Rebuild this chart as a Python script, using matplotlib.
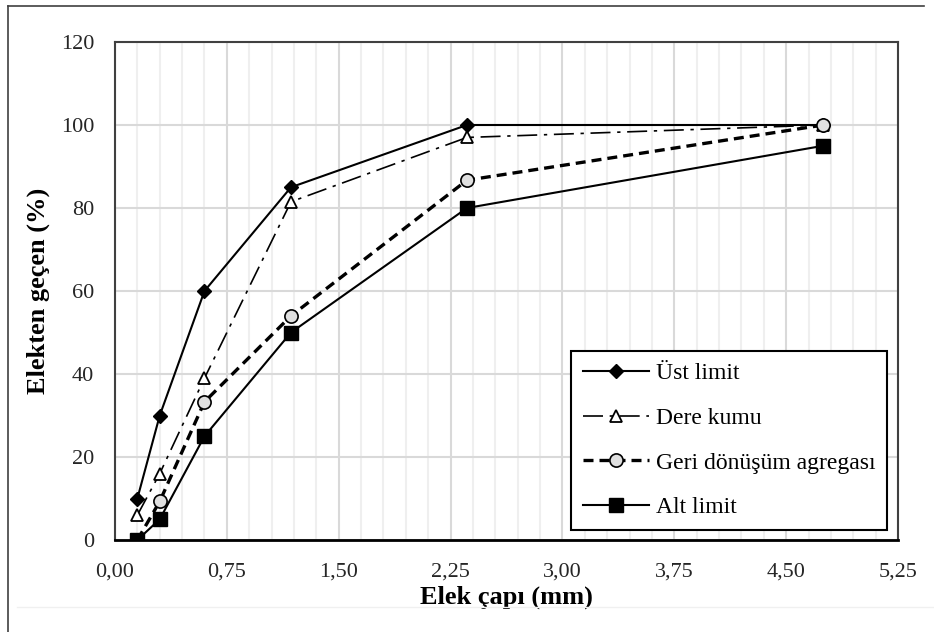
import numpy as np
import matplotlib.pyplot as plt
from matplotlib.ticker import MultipleLocator, FuncFormatter
from matplotlib.lines import Line2D

plt.rcParams['font.family'] = ['Liberation Serif', 'DejaVu Serif']

# sieve sizes (mm)
sieve = [0.15, 0.30, 0.60, 1.18, 2.36, 4.75]

ust_limit = [10, 30, 60, 85, 100, 100]
dere_kumu = [6, 16, 39, 81.5, 97, 100]
geri_donusum = [0, 9.3, 33.3, 54, 86.7, 100]
alt_limit = [0, 5, 25, 50, 80, 95]

W, H = 934, 632
fig = plt.figure(figsize=(W / 100, H / 100), dpi=100)
ax = fig.add_axes([115 / W, 1 - 540 / H, (898 - 115) / W, (540 - 42) / H])

# outer frame (top and left edges visible) and faint bottom rule
fig.add_artist(Line2D([8 / W, 924 / W], [1 - 6 / H, 1 - 6 / H], transform=fig.transFigure,
                      color='#404040', linewidth=1.2))
fig.add_artist(Line2D([8 / W, 8 / W], [0, 1 - 6 / H], transform=fig.transFigure,
                      color='#404040', linewidth=1.2))
fig.add_artist(Line2D([17 / W, 1], [1 - 607 / H, 1 - 607 / H], transform=fig.transFigure,
                      color='#f0f0f0', linewidth=1.0))

ax.plot(sieve, ust_limit, color='black', linestyle='-', linewidth=1.5,
        marker='D', markersize=7.5, markerfacecolor='black', label='Üst limit')
ax.plot(sieve, dere_kumu, color='black', linestyle=(0, (12, 4, 2, 4)), linewidth=1.2,
        marker='^', markersize=8.5, markerfacecolor='white', markeredgewidth=1.3,
        label='Dere kumu')
ax.plot(sieve, geri_donusum, color='black', linestyle=(0, (3, 1.8)), linewidth=2.4,
        marker='o', markersize=9.5, markerfacecolor='#e0e0e0', markeredgecolor='black',
        markeredgewidth=1.2, label='Geri dönüşüm agregası')
ax.plot(sieve, alt_limit, color='black', linestyle='-', linewidth=1.5,
        marker='s', markersize=10.5, markerfacecolor='black', label='Alt limit')

ax.set_xlim(0, 5.25)
ax.set_ylim(0, 120)
ax.xaxis.set_major_locator(MultipleLocator(0.75))
ax.xaxis.set_minor_locator(MultipleLocator(0.15))
ax.yaxis.set_major_locator(MultipleLocator(20))
ax.xaxis.set_major_formatter(FuncFormatter(lambda v, p: f"{v:.2f}".replace('.', ',')))

ax.grid(True, which='major', axis='both', color='#d9d9d9', linewidth=1.5)
ax.grid(True, which='minor', axis='x', color='#efefef', linewidth=1.5)
ax.set_axisbelow(True)

ax.tick_params(axis='both', which='both', length=0, labelsize=16, colors='#262626')
ax.tick_params(axis='y', pad=15)
ax.tick_params(axis='x', pad=16)

for side in ['top', 'right', 'left']:
    ax.spines[side].set_color('#404040')
    ax.spines[side].set_linewidth(1.5)
ax.spines['bottom'].set_color('black')
ax.spines['bottom'].set_linewidth(2)

ax.set_xlabel('Elek çapı (mm)', fontsize=19, fontweight='bold', va='center')
ax.xaxis.set_label_coords(0.5, -(597 - 540) / 498)
ax.set_ylabel('Elekten geçen (%)', fontsize=19, fontweight='bold', va='center')
ax.yaxis.set_label_coords(-(115 - 38) / 783, 0.5)

leg = ax.legend(loc='lower right', bbox_to_anchor=(1 - 11 / 783, 10 / 498),
                fontsize=17, frameon=True, fancybox=False, framealpha=1,
                edgecolor='black', handlelength=2.8, labelspacing=0.98,
                borderpad=0.5, handletextpad=0.3, borderaxespad=0)
leg.get_frame().set_linewidth(1.5)

fig.savefig('out.png', dpi=100)
